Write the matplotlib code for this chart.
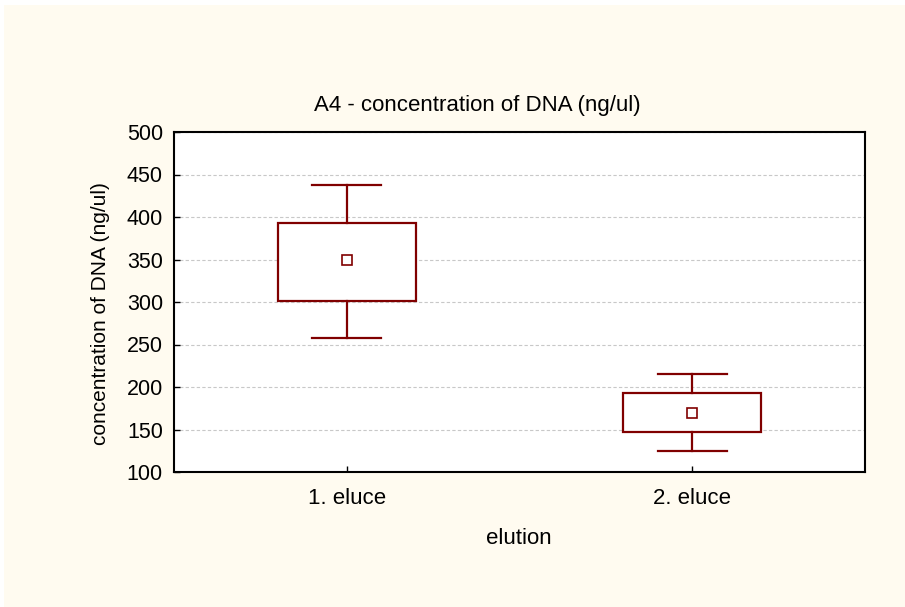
import matplotlib
matplotlib.use("Agg")
import matplotlib.pyplot as plt
from matplotlib.patches import Rectangle

plt.rcParams['font.family'] = ['Liberation Sans', 'DejaVu Sans']

categories = ["1. eluce", "2. eluce"]
means = [349.5, 170.0]
box_low = [301.0, 147.0]
box_high = [393.0, 193.0]
whisk_low = [257.5, 124.5]
whisk_high = [437.5, 215.0]
yticks = [100, 150, 200, 250, 300, 350, 400, 450, 500]

W, H = 905, 607
color = "#800000"
fig = plt.figure(figsize=(W / 100, H / 100), dpi=100)
fig.patch.set_facecolor("white")
fig.patches.append(Rectangle((4 / W, 0), 1, 1 - 5 / H, transform=fig.transFigure,
                             facecolor="#fffbf0", edgecolor="none", zorder=-10))
ax = fig.add_axes([174 / W, 1 - 472 / H, 691 / W, 340 / H])
ax.set_facecolor("white")

bw = 0.4
cw = 0.2
for i in range(len(categories)):
    ax.add_patch(Rectangle((i - bw / 2, box_low[i]), bw, box_high[i] - box_low[i],
                           facecolor="white", edgecolor=color, lw=1.6, zorder=3))
    ax.plot([i, i], [box_high[i], whisk_high[i]], color=color, lw=1.6, zorder=3)
    ax.plot([i, i], [box_low[i], whisk_low[i]], color=color, lw=1.6, zorder=3)
    ax.plot([i - cw / 2, i + cw / 2], [whisk_high[i]] * 2, color=color, lw=1.6, zorder=3)
    ax.plot([i - cw / 2, i + cw / 2], [whisk_low[i]] * 2, color=color, lw=1.6, zorder=3)
    ax.plot([i], [means[i]], marker="s", ms=7, mfc="white", mec=color, mew=1.2, zorder=4)

ax.set_xlim(-0.5, 1.5)
ax.set_ylim(100, 500)
ax.set_yticks(yticks)
ax.set_xticks(range(len(categories)))
ax.set_xticklabels(categories)
ax.yaxis.grid(True, linestyle=(0, (3, 2)), color="#c8c8c8", lw=0.8)
ax.set_axisbelow(True)
ax.tick_params(direction="in", length=4, width=1, colors="black")
ax.tick_params(axis="y", labelsize=15.5, pad=8)
ax.tick_params(axis="x", labelsize=16, pad=11.5)
for s in ax.spines.values():
    s.set_linewidth(1.5)
    s.set_color("black")

fig.text(477 / W, 1 - 106 / H, "A4 - concentration of DNA (ng/ul)", fontsize=16,
         ha="center", va="center")
fig.text(519 / W, 1 - 539 / H, "elution", fontsize=16, ha="center", va="center")
fig.text(101 / W, 1 - 314 / H, "concentration of DNA (ng/ul)", fontsize=15,
         ha="center", va="center", rotation=90)

fig.savefig("out.png", dpi=100)
